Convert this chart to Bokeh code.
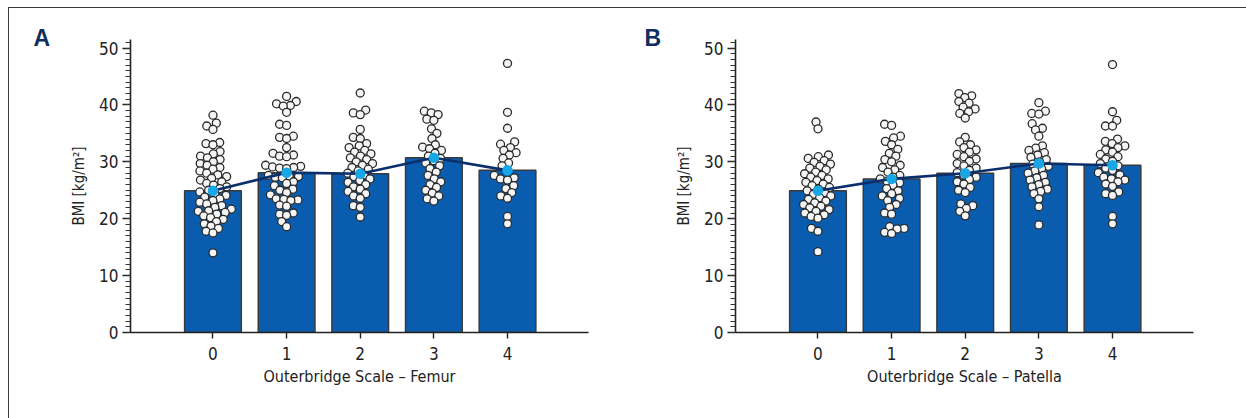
import math
import numpy as np
from bokeh.plotting import figure
from bokeh.layouts import row
from bokeh.models import (Range1d, SingleIntervalTicker, FixedTicker, InlineStyleSheet)
from bokeh.embed import file_html
from bokeh.resources import INLINE

# ---------------- data ----------------
categories = [0, 1, 2, 3, 4]

A_means = [24.9, 28.1, 27.9, 30.7, 28.5]
B_means = [24.9, 27.0, 28.0, 29.7, 29.4]

A0 = [38.2, 36.8, 36.3, 35.7, 33.4, 33.2, 33.0,
      31.8, 31.4, 31.0, 30.7, 30.4, 30.0, 29.7, 29.4, 29.0, 28.7, 28.4, 28.0, 27.7, 27.4,
      27.1, 26.8, 26.5, 26.2, 25.9, 25.6, 25.3, 25.0, 24.7, 24.4, 24.1, 23.8, 23.5, 23.2,
      22.9, 22.6, 22.3, 22.0, 21.7, 21.4, 21.3, 21.1, 20.8, 20.5, 20.2, 19.9, 19.5, 19.1,
      18.7, 18.3, 17.8, 17.5, 14.0]
A1 = [41.5, 40.6, 40.2, 39.9, 39.8, 38.7, 36.6, 36.4, 34.5, 34.3, 34.1, 32.5, 31.5, 31.2,
      31.0, 30.9, 29.4, 29.2, 29.1, 29.0, 28.9, 28.8, 27.6, 27.5, 27.4, 27.3, 27.2, 26.5,
      26.2, 25.8, 25.2, 25.0, 24.6, 24.2, 23.5, 23.4, 23.3, 23.2, 22.4, 22.2, 21.0, 20.8,
      20.6, 19.5, 18.6]
A2 = [42.1, 39.1, 38.6, 38.3, 35.7, 34.3, 34.1, 33.2, 32.8, 32.5, 32.0, 31.7, 31.4, 31.0,
      30.7, 30.4, 30.0, 29.7, 29.4, 29.0, 28.7, 28.4, 28.0, 27.7, 27.4, 27.0, 26.7, 26.4,
      26.0, 25.6, 25.2, 24.8, 24.4, 24.0, 23.6, 22.3, 22.0, 20.3]
A3 = [38.9, 38.6, 38.3, 37.5, 37.3, 35.8, 35.0, 34.1, 33.0, 32.6, 32.3, 32.0, 31.5, 31.0,
      30.6, 30.2, 29.8, 29.3, 28.8, 28.2, 27.6, 27.0, 26.5, 26.0, 25.5, 25.0, 24.5, 24.0,
      23.5, 23.1]
A4 = [47.3, 38.7, 35.9, 33.5, 33.1, 32.5, 32.0, 31.6, 31.2, 30.6, 29.8, 29.3, 28.5, 27.6,
      27.2, 27.0, 26.8, 25.8, 25.3, 24.6, 24.0, 23.6, 20.4, 19.1]

B0 = [37.0, 35.8, 31.2, 30.9, 30.6, 30.2, 29.9, 29.6, 29.2, 28.9, 28.6, 28.2, 27.9, 27.6,
      27.3, 27.0, 26.7, 26.4, 26.1, 25.8, 25.5, 25.2, 24.9, 24.6, 24.3, 24.0, 23.7, 23.4,
      23.1, 22.8, 22.5, 22.2, 21.9, 21.6, 21.3, 21.0, 20.7, 20.4, 20.1, 18.3, 17.8, 14.2]
B1 = [36.6, 36.4, 34.5, 34.2, 33.6, 33.0, 32.2, 31.5, 31.0, 30.4, 30.0, 29.4, 29.0, 28.6,
      28.2, 27.6, 27.3, 27.0, 26.6, 26.3, 25.9, 25.3, 24.9, 24.4, 24.0, 23.6, 23.2, 22.5,
      22.0, 21.0, 20.8, 18.6, 18.3, 18.2, 17.6, 17.4]
B2 = [42.0, 41.6, 41.3, 40.6, 40.3, 39.6, 39.3, 38.8, 38.5, 37.7, 34.3, 33.5, 33.0, 32.5,
      32.1, 31.7, 31.3, 30.9, 30.5, 30.1, 29.7, 29.3, 28.9, 28.5, 28.1, 27.7, 27.3, 26.9,
      26.5, 26.1, 25.5, 25.0, 24.6, 22.6, 22.3, 21.8, 21.3, 20.5]
B3 = [40.4, 38.9, 38.5, 38.4, 36.7, 35.9, 35.6, 34.5, 32.8, 32.4, 32.0, 31.6, 31.2, 30.8,
      30.4, 30.0, 29.6, 29.2, 28.8, 28.4, 28.0, 27.6, 27.2, 26.8, 26.4, 26.0, 25.6, 25.2,
      24.8, 24.4, 23.5, 22.1, 18.9]
B4 = [47.1, 38.8, 37.3, 36.3, 36.3, 34.0, 33.6, 33.2, 32.8, 32.5, 32.1, 31.7, 31.3, 30.9,
      30.5, 30.1, 29.7, 29.3, 28.9, 28.5, 28.1, 27.7, 27.3, 27.0, 26.8, 26.5, 26.1, 25.7,
      24.7, 24.4, 24.1, 20.4, 19.1]

A_groups = [A0, A1, A2, A3, A4]
B_groups = [B0, B1, B2, B3, B4]

y_tick_labels = ["0", "10", "20", "30", "40", "50"]

# ---------------- layout constants ----------------
X0, X1 = -1.12, 5.1
Y0, Y1 = 0, 51.5
FRAME_W, FRAME_H = 458, 293
PX = FRAME_W / (X1 - X0)
PY = FRAME_H / (Y1 - Y0)
FONT = "'DejaVu Sans Condensed', Roboto, sans-serif"
D = 7.1  # collision distance in px


def swarm(vals, d=D):
    ys = np.asarray(vals, dtype=float) * PY
    order = np.argsort(ys)
    placed = []
    xs = np.zeros(len(ys))
    for i in order:
        y = ys[i]
        near = [(px, py) for px, py in placed if abs(py - y) < d]
        cands = [0.0]
        for px, py in near:
            dx = math.sqrt(max(d * d - (py - y) ** 2, 0.0))
            cands += [px + dx, px - dx]
        cands.sort(key=lambda c: (abs(c), c))
        for c in cands:
            if all((c - px) ** 2 + (y - py) ** 2 >= d * d - 1e-6 for px, py in near):
                xs[i] = c
                break
        placed.append((xs[i], y))
    return xs / PX


def make_panel(letter, letter_x, xlabel, groups, means, width, left, right):
    p = figure(width=width, height=418, x_range=Range1d(X0, X1), y_range=Range1d(Y0, Y1),
               output_backend="svg", toolbar_location=None,
               min_border_left=left, min_border_right=right,
               min_border_top=39, min_border_bottom=418 - 39 - FRAME_H)
    p.outline_line_color = None
    p.grid.visible = False
    p.background_fill_color = "white"
    p.border_fill_color = "white"

    # panel letter as the title, shifted into the top-left corner
    p.title.text = letter
    p.title.align = "left"
    p.title.offset = letter_x - left
    p.title.standoff = -23
    p.title.text_font = "Liberation Sans"
    p.title.text_font_style = "bold"
    p.title.text_font_size = "23px"
    p.title.text_color = "#0E2D60"

    p.vbar(x=categories, top=means, bottom=0, width=0.77, fill_color="#0A5DAE",
           line_color="#3a3a3a", line_width=1.5)

    xs, ys = [], []
    for c, vals in zip(categories, groups):
        off = swarm(vals)
        xs += list(c + off)
        ys += list(vals)
    p.scatter(x=xs, y=ys, size=8.0, fill_color="#f5f5f5", line_color="#2a2a2a",
              line_width=1.3)

    p.line(x=categories, y=means, line_color="#0B2F6B", line_width=2.6)
    p.scatter(x=categories, y=means, size=10.5, fill_color="#17A7E6", line_color=None)

    ax = p.xaxis[0]
    ax.ticker = FixedTicker(ticks=categories)
    ax.axis_label = xlabel
    ax.axis_label_text_font = FONT
    ax.axis_label_text_font_size = "16px"
    ax.axis_label_text_font_style = "normal"
    ax.axis_label_text_color = "#222222"
    ax.axis_label_standoff = 4
    ax.major_label_text_font = FONT
    ax.major_label_text_font_size = "17px"
    ax.major_label_text_color = "#222222"
    ax.major_label_standoff = 8
    ax.major_tick_out = 6
    ax.major_tick_in = 0
    ax.minor_tick_out = 0
    ax.minor_tick_in = 0
    ax.axis_line_color = "#222222"
    ax.axis_line_width = 1.6
    ax.major_tick_line_color = "#222222"
    ax.major_tick_line_width = 1.4

    ay = p.yaxis[0]
    ay.ticker = SingleIntervalTicker(interval=10, num_minor_ticks=10)
    ay.major_label_overrides = {i * 10: t for i, t in enumerate(y_tick_labels)}
    ay.axis_label = "BMI [kg/m²]"
    ay.axis_label_text_font = FONT
    ay.axis_label_text_font_size = "15px"
    ay.axis_label_text_font_style = "normal"
    ay.axis_label_text_color = "#222222"
    ay.axis_label_standoff = 8
    ay.major_label_text_font = FONT
    ay.major_label_text_font_size = "17px"
    ay.major_label_text_color = "#222222"
    ay.major_label_standoff = 4
    ay.major_tick_out = 8
    ay.major_tick_in = 0
    ay.minor_tick_out = 5
    ay.minor_tick_in = 0
    ay.axis_line_color = "#222222"
    ay.axis_line_width = 1.6
    ay.major_tick_line_color = "#222222"
    ay.major_tick_line_width = 1.4
    ay.minor_tick_line_color = "#333333"
    ay.minor_tick_line_width = 1.0
    return p


pA = make_panel("A", 33, "Outerbridge Scale – Femur", A_groups, A_means, 620, 130, 32)
pB = make_panel("B", 24, "Outerbridge Scale – Patella", B_groups, B_means, 626, 115, 53)

css = """
:host { position: relative; }
:host::after { content: ''; position: absolute; left: 8px; top: 7px; right: 0; bottom: 0;
  border-top: 1.5px solid #3c3c3c; border-left: 1.5px solid #3c3c3c;
  pointer-events: none; z-index: 100; }
"""
layout = row(pA, pB, stylesheets=[InlineStyleSheet(css=css)])

open("out.html", "w").write(file_html(layout, INLINE))
